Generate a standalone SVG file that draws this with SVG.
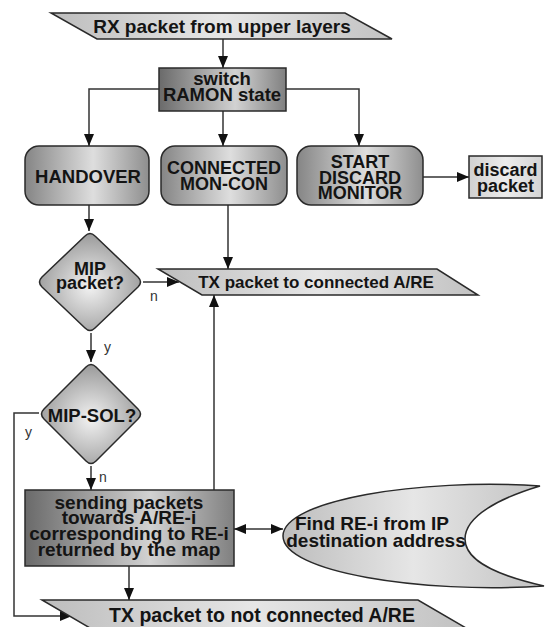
<svg xmlns="http://www.w3.org/2000/svg" width="546" height="627" viewBox="0 0 546 627">
<defs>
<linearGradient id="gPar" x1="0" y1="0" x2="1" y2="0">
<stop offset="0" stop-color="#bdbdbd"/><stop offset="0.5" stop-color="#e6e6e6"/><stop offset="1" stop-color="#c2c2c2"/>
</linearGradient>
<linearGradient id="gDark" x1="0" y1="0" x2="1" y2="0">
<stop offset="0" stop-color="#6a6a6a"/><stop offset="0.6" stop-color="#d2d2d2"/><stop offset="1" stop-color="#808080"/>
</linearGradient>
<linearGradient id="gRound" x1="0" y1="0" x2="1" y2="0">
<stop offset="0" stop-color="#858585"/><stop offset="0.55" stop-color="#dedede"/><stop offset="1" stop-color="#8e8e8e"/>
</linearGradient>
<radialGradient id="gDia" cx="0.5" cy="0.55" r="0.55">
<stop offset="0" stop-color="#f2f2f2"/><stop offset="1" stop-color="#9a9a9a"/>
</radialGradient>
<linearGradient id="gLight" x1="0" y1="0" x2="1" y2="0">
<stop offset="0" stop-color="#d0d0d0"/><stop offset="0.5" stop-color="#ececec"/><stop offset="1" stop-color="#d4d4d4"/>
</linearGradient>
<marker id="arr" viewBox="0 0 12 10" refX="12" refY="5" markerWidth="12" markerHeight="11" markerUnits="userSpaceOnUse" orient="auto-start-reverse">
<path d="M0,0 L12,5 L0,10 Z" fill="#111"/>
</marker>
<style>
.sh{stroke:#2a2a2a;stroke-width:1.5}
.t{font-family:"Liberation Sans",Arial,sans-serif;font-weight:bold;fill:#141414;text-anchor:middle}
.lb{font-family:"Liberation Sans",Arial,sans-serif;font-size:14px;fill:#333}
.c{fill:none;stroke:#333;stroke-width:1.5}
</style>
</defs>

<g id="connectors">
<path class="c" d="M223,39 V68" marker-end="url(#arr)"/>
<path class="c" d="M159,89 H89 V146" marker-end="url(#arr)"/>
<path class="c" d="M223,111 V146" marker-end="url(#arr)"/>
<path class="c" d="M286,89 H359 V146" marker-end="url(#arr)"/>
<path class="c" d="M423,177 H469" marker-end="url(#arr)"/>
<path class="c" d="M89,205 V231" marker-end="url(#arr)"/>
<path class="c" d="M228,205 V269" marker-end="url(#arr)"/>
<path class="c" d="M143,282 H179" marker-end="url(#arr)"/>
<path class="c" d="M91,333 V362" marker-end="url(#arr)"/>
<path class="c" d="M91,466 V490" marker-end="url(#arr)"/>
<path class="c" d="M39,413 H14 V616 H72" marker-end="url(#arr)"/>
<path class="c" d="M214,490 V295" marker-end="url(#arr)"/>
<path class="c" d="M129,566 V600" marker-end="url(#arr)"/>
<path class="c" d="M234,529 H283" marker-start="url(#arr)" marker-end="url(#arr)"/>
<text class="lb" x="150" y="301">n</text>
<text class="lb" x="104" y="352">y</text>
<text class="lb" x="25" y="437">y</text>
<text class="lb" x="99" y="482">n</text>
</g>

<g id="rx">
<polygon class="sh" points="51,13 345,13 392,39 97,39" fill="url(#gPar)"/>
<text class="t" x="222" y="33" font-size="19">RX packet from upper layers</text>
</g>

<g id="switch">
<rect class="sh" x="159" y="68" width="127" height="43" fill="url(#gDark)"/>
<text class="t" x="222" y="85" font-size="18.5">switch</text>
<text class="t" x="222" y="101" font-size="18.5">RAMON state</text>
</g>

<g id="handover">
<rect class="sh" x="25" y="146" width="124" height="59" rx="14" fill="url(#gRound)"/>
<text class="t" x="88" y="183" font-size="18.5">HANDOVER</text>
</g>

<g id="connected">
<rect class="sh" x="161" y="146" width="126" height="59" rx="14" fill="url(#gRound)"/>
<text class="t" x="224" y="174" font-size="18">CONNECTED</text>
<text class="t" x="224" y="190" font-size="18">MON-CON</text>
</g>

<g id="start">
<rect class="sh" x="297" y="146" width="126" height="59" rx="14" fill="url(#gRound)"/>
<text class="t" x="360" y="168" font-size="18">START</text>
<text class="t" x="360" y="184" font-size="18">DISCARD</text>
<text class="t" x="360" y="199" font-size="18">MONITOR</text>
</g>

<g id="discard">
<rect class="sh" x="469" y="156" width="73" height="42" fill="url(#gLight)"/>
<text class="t" x="505.5" y="176" font-size="18">discard</text>
<text class="t" x="505.5" y="192" font-size="18">packet</text>
</g>

<g id="mip">
<path class="sh" d="M95,236 L138,277 Q143,282 138,287 L95,328 Q90,333 85,328 L42,287 Q37,282 42,277 L85,236 Q90,231 95,236 Z" fill="url(#gDia)"/>
<text class="t" x="90" y="275" font-size="18">MIP</text>
<text class="t" x="90" y="289" font-size="18">packet?</text>
</g>

<g id="txconn">
<polygon class="sh" points="158,269 437,269 478,295 202,295" fill="url(#gPar)"/>
<text class="t" x="316" y="288" font-size="17">TX packet to connected A/RE</text>
</g>

<g id="mipsol">
<path class="sh" d="M96,367 L138,409 Q143,414 138,419 L96,461 Q91,466 86,461 L44,419 Q39,414 44,409 L86,367 Q91,362 96,367 Z" fill="url(#gDia)"/>
<text class="t" x="92" y="422" font-size="18.5">MIP-SOL?</text>
</g>

<g id="sending">
<rect class="sh" x="25" y="490" width="209" height="76" fill="url(#gDark)"/>
<text class="t" x="129" y="509" font-size="19">sending packets</text>
<text class="t" x="129" y="524" font-size="19">towards A/RE-i</text>
<text class="t" x="129" y="540" font-size="19">corresponding to RE-i</text>
<text class="t" x="129" y="556" font-size="19">returned by the map</text>
</g>

<g id="find">
<path class="sh" d="M540,486 C420,478 283,500 283,536 C283,572 420,594 544,586 C500,576 465,562 465,539 C465,516 500,498 540,486 Z" fill="url(#gPar)"/>
<text class="t" x="372" y="530" font-size="19">Find RE-i from IP</text>
<text class="t" x="376" y="547" font-size="19">destination address</text>
</g>

<g id="txnotconn">
<polygon class="sh" points="42,600 418,600 466,628 90,628" fill="url(#gPar)"/>
<text class="t" x="262" y="622" font-size="19.5">TX packet to not connected A/RE</text>
</g>
</svg>
